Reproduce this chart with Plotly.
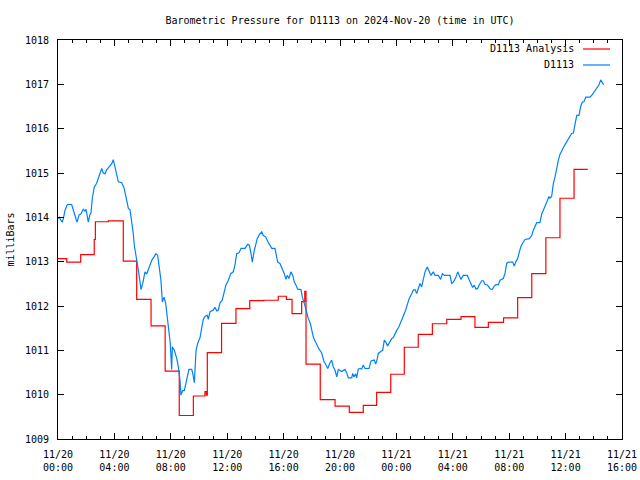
import pandas as pd
import plotly.graph_objects as go

TITLE = "Barometric Pressure for D1113 on 2024-Nov-20 (time in UTC)"
START = pd.Timestamp("2024-11-20 00:00")

# Observed pressure (hours since 2024-11-20 00:00 UTC, millibars)
obs_hours = [
    0.02, 0.09, 0.21, 0.30, 0.38, 0.50, 0.66, 0.97, 1.09, 1.26, 1.35, 1.49, 1.63, 1.79, 1.91, 1.99,
    2.08, 2.15, 2.25, 2.34, 2.43, 2.57, 2.74, 2.86, 3.03, 3.10, 3.21, 3.33, 3.45, 3.64, 3.81, 3.92,
    3.99, 4.11, 4.28, 4.52, 4.68, 4.82, 4.99, 5.11, 5.23, 5.34, 5.41, 5.53, 5.62, 5.70, 5.82, 5.89,
    6.01, 6.17, 6.29, 6.45, 6.65, 6.83, 6.95, 7.07, 7.18, 7.30, 7.40, 7.52, 7.64, 7.75, 7.87, 7.96,
    8.06, 8.11, 8.25, 8.42, 8.53, 8.65, 8.72, 8.84, 8.96, 9.06, 9.17, 9.29, 9.48, 9.55, 9.67, 9.72,
    9.79, 9.91, 10.07, 10.19, 10.30, 10.43, 10.59, 10.66, 10.78, 11.01, 11.13, 11.26, 11.37, 11.49,
    11.65, 11.79, 11.91, 12.08, 12.25, 12.43, 12.55, 12.67, 12.84, 12.98, 13.26, 13.45, 13.57, 13.69,
    13.78, 13.90, 14.02, 14.13, 14.28, 14.45, 14.56, 14.73, 14.87, 15.04, 15.16, 15.39, 15.46, 15.58,
    15.74, 15.91, 16.05, 16.17, 16.26, 16.38, 16.52, 16.65, 16.76, 16.88, 17.00, 17.23, 17.33, 17.47,
    17.59, 17.75, 17.89, 17.99, 18.11, 18.23, 18.39, 18.53, 18.70, 18.87, 19.01, 19.13, 19.29, 19.41,
    19.52, 19.65, 19.77, 19.88, 20.12, 20.35, 20.48, 20.59, 20.83, 20.90, 20.99, 21.11, 21.18, 21.30,
    21.42, 21.54, 21.65, 21.77, 22.06, 22.20, 22.43, 22.53, 22.62, 22.72, 22.91, 23.03, 23.14, 23.24,
    23.38, 23.55, 23.67, 23.78, 23.90, 24.02, 24.18, 24.33, 24.49, 24.66, 24.80, 24.91, 25.09, 25.20,
    25.32, 25.44, 25.55, 25.67, 25.79, 25.91, 26.03, 26.19, 26.33, 26.45, 26.62, 26.74, 26.97, 27.14,
    27.26, 27.40, 27.80, 27.92, 28.04, 28.21, 28.35, 28.46, 28.58, 28.74, 29.03, 29.15, 29.29, 29.41,
    29.52, 29.65, 29.77, 29.86, 30.05, 30.16, 30.28, 30.47, 30.64, 30.80, 30.94, 31.06, 31.23, 31.35,
    31.58, 31.70, 31.82, 31.94, 32.25, 32.36, 32.46, 32.60, 32.72, 32.84, 32.96, 33.12, 33.43, 33.60,
    33.71, 33.88, 33.95, 34.18, 34.31, 34.42, 34.54, 34.66, 34.82, 34.89, 35.01, 35.13, 35.25, 35.37,
    35.48, 35.60, 35.72, 35.84, 35.96, 36.08, 36.31, 36.43, 36.55, 36.67, 36.79, 36.95, 37.07, 37.19,
    37.31, 37.43, 37.73, 37.89, 38.09, 38.25, 38.37, 38.49, 38.60, 38.70,
]
obs_mb = [
    1013.97, 1014.00, 1013.93, 1013.89, 1013.97, 1014.16, 1014.29, 1014.29, 1014.16, 1013.97, 1013.89, 1014.05, 1014.08, 1014.18, 1014.14, 1014.18,
    1014.05, 1013.89, 1014.05, 1014.10, 1014.42, 1014.68, 1014.77, 1014.87, 1015.04, 1015.10, 1015.00, 1014.98, 1015.07, 1015.15, 1015.21, 1015.30,
    1015.21, 1015.00, 1014.80, 1014.78, 1014.67, 1014.46, 1014.20, 1014.17, 1013.93, 1013.63, 1013.37, 1013.18, 1012.96, 1012.81, 1012.54, 1012.37,
    1012.51, 1012.77, 1012.72, 1012.88, 1013.03, 1013.12, 1013.18, 1013.14, 1012.92, 1012.58, 1012.09, 1012.20, 1012.06, 1011.75, 1011.38, 1011.16,
    1010.57, 1011.08, 1011.00, 1010.82, 1010.64, 1010.33, 1009.99, 1010.09, 1010.09, 1010.25, 1010.37, 1010.57, 1010.57, 1010.49, 1010.27, 1010.55,
    1011.00, 1011.16, 1011.28, 1011.50, 1011.69, 1011.77, 1011.79, 1011.70, 1011.87, 1011.91, 1011.97, 1011.89, 1011.91, 1012.07,
    1012.13, 1012.32, 1012.47, 1012.58, 1012.73, 1012.77, 1012.92, 1013.18, 1013.20, 1013.30, 1013.30, 1013.39, 1013.37, 1013.18,
    1012.99, 1013.22, 1013.41, 1013.52, 1013.61, 1013.67, 1013.59, 1013.56, 1013.46, 1013.37, 1013.30, 1013.30, 1013.18, 1012.99,
    1012.96, 1012.84, 1012.73, 1012.60, 1012.69, 1012.62, 1012.77, 1012.69, 1012.54, 1012.47, 1012.38, 1012.37, 1012.20, 1012.06,
    1011.91, 1011.72, 1011.61, 1011.45, 1011.30, 1011.21, 1011.09, 1011.02, 1010.94, 1010.74, 1010.67, 1010.59, 1010.72, 1010.78,
    1010.63, 1010.55, 1010.40, 1010.57, 1010.52, 1010.57, 1010.49, 1010.38, 1010.38, 1010.48, 1010.40, 1010.47, 1010.38, 1010.58,
    1010.59, 1010.58, 1010.67, 1010.59, 1010.59, 1010.76, 1010.78, 1010.69, 1010.78, 1010.93, 1010.98, 1011.00, 1011.23, 1011.19,
    1011.10, 1011.19, 1011.27, 1011.29, 1011.38, 1011.45, 1011.53, 1011.64, 1011.75, 1011.91, 1012.06, 1012.17, 1012.28, 1012.36,
    1012.37, 1012.28, 1012.39, 1012.51, 1012.43, 1012.62, 1012.77, 1012.88, 1012.77, 1012.69, 1012.77, 1012.69, 1012.69, 1012.60,
    1012.73, 1012.69, 1012.69, 1012.51, 1012.54, 1012.64, 1012.77, 1012.69, 1012.60, 1012.69, 1012.69, 1012.60, 1012.51, 1012.42,
    1012.47, 1012.38, 1012.40, 1012.47, 1012.57, 1012.57, 1012.49, 1012.47, 1012.39, 1012.37, 1012.45, 1012.48, 1012.48, 1012.58,
    1012.62, 1012.73, 1012.96, 1012.99, 1012.99, 1012.90, 1012.99, 1013.07, 1013.22, 1013.35, 1013.42, 1013.50, 1013.52, 1013.59,
    1013.71, 1013.86, 1013.88, 1013.88, 1014.08, 1014.16, 1014.27, 1014.34, 1014.47, 1014.43, 1014.47, 1014.76, 1014.91, 1015.13,
    1015.28, 1015.42, 1015.51, 1015.57, 1015.64, 1015.71, 1015.81, 1015.89, 1015.90, 1016.15, 1016.30, 1016.30, 1016.50, 1016.60,
    1016.61, 1016.71, 1016.71, 1016.77, 1016.86, 1016.93, 1016.99, 1017.10, 1017.05, 1016.99,
]

# Analysis (step values; each holds until the next time)
ana_hours = [
    0.00, 0.62, 1.61, 2.57, 2.65, 3.57, 4.63, 5.58, 6.60, 7.60, 8.60, 9.60, 10.42, 10.52, 10.59,
    11.60, 12.62, 13.60, 14.60, 15.62, 16.20, 16.60, 17.28, 17.50, 17.59, 18.60, 19.65, 20.66,
    21.65, 22.60, 23.60, 24.56, 25.55, 26.55, 27.57, 28.58, 29.57, 30.52, 31.60, 32.60, 33.60,
    34.60, 35.60, 36.60, 37.57,
]
ana_mb = [
    1013.07, 1012.99, 1013.16, 1013.50, 1013.90, 1013.92, 1013.01, 1012.15, 1011.55, 1010.53, 1009.53, 1009.97, 1010.07, 1009.99, 1010.95,
    1011.61, 1011.94, 1012.12, 1012.13, 1012.22, 1012.15, 1011.83, 1012.10, 1012.33, 1010.69, 1009.89, 1009.74, 1009.60,
    1009.76, 1010.05, 1010.46, 1011.07, 1011.36, 1011.60, 1011.70, 1011.76, 1011.52, 1011.63, 1011.73, 1012.19, 1012.73,
    1013.54, 1014.43, 1015.08, 1015.08,
]

SERIES_NAMES = ["D1113 Analysis", "D1113"]
SERIES_COLORS = ["#ff0000", "#0080ff"]
Y_RANGE = [1009, 1018]
X_RANGE_HOURS = [0, 40]

to_time = lambda hrs: START + pd.to_timedelta(hrs, unit="h")

FONT = "DejaVu Sans Mono"
PLOT_W, PLOT_H = 564, 399

fig = go.Figure()
fig.add_trace(go.Scatter(x=to_time(ana_hours), y=ana_mb, mode="lines", line_shape="hv",
                         name=SERIES_NAMES[0], line=dict(color=SERIES_COLORS[0], width=1.2)))
fig.add_trace(go.Scatter(x=to_time(obs_hours), y=obs_mb, mode="lines",
                         name=SERIES_NAMES[1], line=dict(color=SERIES_COLORS[1], width=1.2)))

# Manual gnuplot-style legend (text left of the line sample)
for i, (nm, col) in enumerate(zip(SERIES_NAMES, SERIES_COLORS)):
    yy = 1 - (9 + 16 * i) / PLOT_H
    fig.add_annotation(xref="paper", yref="paper", x=(576 - 58) / PLOT_W, y=yy, text=nm,
                       showarrow=False, xanchor="right", yanchor="middle",
                       font=dict(family=FONT, size=10, color="black"))
    fig.add_shape(type="line", xref="paper", yref="paper",
                  x0=(583 - 58) / PLOT_W, x1=(610 - 58) / PLOT_W, y0=yy, y1=yy,
                  line=dict(color=col, width=1.2))

fig.update_layout(
    width=640, height=480,
    margin=dict(l=58, r=18, t=40, b=41, autoexpand=False),
    paper_bgcolor="white", plot_bgcolor="white",
    showlegend=False,
    font=dict(family=FONT, size=10, color="black"),
    title=dict(text=TITLE, xref="paper", x=0.5, xanchor="center", y=1 - 20 / 480, yanchor="middle",
               font=dict(family=FONT, size=10, color="black")),
)
fig.update_xaxes(
    type="date", range=[to_time(X_RANGE_HOURS[0]), to_time(X_RANGE_HOURS[1])],
    tick0=START, dtick=4 * 3600 * 1000, tickformat="%m/%d<br>%H:%M",
    ticks="inside", ticklen=6, tickwidth=1, tickcolor="black",
    minor=dict(dtick=3600 * 1000, ticks="inside", ticklen=3, tickcolor="black", showgrid=False),
    showline=True, linecolor="black", linewidth=1, mirror="allticks",
    showgrid=False, zeroline=False, ticklabelstandoff=6, automargin=False,
)
fig.update_yaxes(
    range=Y_RANGE, dtick=1, tickformat="d",
    ticks="inside", ticklen=6, tickwidth=1, tickcolor="black",
    showline=True, linecolor="black", linewidth=1, mirror="allticks",
    showgrid=False, zeroline=False, ticklabelstandoff=6, automargin=False,
    title=dict(text="milliBars", standoff=8, font=dict(family=FONT, size=10)),
)

fig.write_html("out.html", config={"displayModeBar": False},
               post_script="document.body.style.margin='0';")
